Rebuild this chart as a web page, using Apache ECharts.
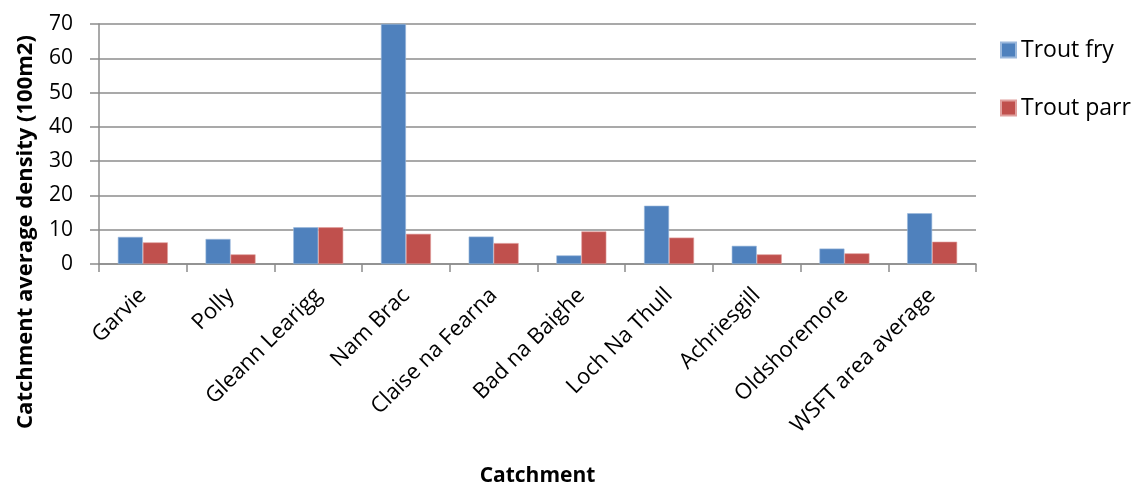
<!DOCTYPE html>
<html>
<head>
<meta charset="utf-8">
<script src="https://cdn.jsdelivr.net/npm/echarts@6/dist/echarts.min.js"></script>
<style>
  html, body { margin: 0; padding: 0; background: #fff; }
  #chart-box { width: 1134px; height: 485px; }
</style>
</head>
<body>
<div id="chart-box"></div>
<script>
// catchments (x axis)
var catchments = ['Garvie', 'Polly', 'Gleann Learigg', 'Nam Brac', 'Claise na Fearna',
  'Bad na Baighe', 'Loch Na Thull', 'Achriesgill', 'Oldshoremore', 'WSFT area average'];
// densities per 100m2
var troutFry  = [7.9, 7.3, 10.7, 70, 8.0, 2.5, 17.0, 5.3, 4.5, 14.8];
var troutParr = [6.3, 2.8, 10.7, 8.8, 6.1, 9.5, 7.7, 2.8, 3.1, 6.5];
var yTicks = [0, 10, 20, 30, 40, 50, 60, 70];

var font = 'Open Sans';
var chart = echarts.init(document.getElementById('chart-box'));

option = {
  animation: false,
  textStyle: { fontFamily: font },
  grid: { left: 99, right: 158, top: 24, bottom: 221, containLabel: false, outerBoundsMode: 'none' },
  // y title is centred on the whole chart height, not on the plot, so draw it here
  graphic: [{
    type: 'text',
    x: 26,
    y: 232,
    rotation: Math.PI / 2,
    style: {
      text: 'Catchment average density (100m2)',
      font: 'bold 22px "Open Sans"',
      fill: '#000',
      align: 'center',
      verticalAlign: 'middle'
    }
  }],
  legend: {
    orient: 'vertical',
    left: 1000,
    top: 38,
    padding: 0,
    itemWidth: 15,
    itemHeight: 15,
    itemGap: 34,
    icon: 'rect',
    textStyle: { fontFamily: font, fontSize: 23, color: '#000', lineHeight: 24 },
    data: ['Trout fry', 'Trout parr']
  },
  xAxis: {
    type: 'category',
    data: catchments,
    name: 'Catchment',
    nameLocation: 'middle',
    nameGap: 202,
    nameTextStyle: { fontFamily: font, fontSize: 21, fontWeight: 'bold', color: '#000' },
    axisLine: { lineStyle: { color: '#8c8c8c', width: 1.5 } },
    axisTick: { show: true, length: 8, lineStyle: { color: '#8c8c8c', width: 1.5 } },
    axisLabel: { rotate: 45, margin: 28, fontSize: 22, color: '#000', interval: 0 }
  },
  yAxis: {
    type: 'value',
    min: yTicks[0],
    max: yTicks[yTicks.length - 1],
    interval: 10,
    axisLine: { show: true, lineStyle: { color: '#8c8c8c', width: 1.5 } },
    axisTick: { show: true, length: 9, lineStyle: { color: '#8c8c8c', width: 1.5 } },
    axisLabel: { margin: 26, fontSize: 21, color: '#000' },
    splitLine: { lineStyle: { color: '#8c8c8c', width: 1.5 } }
  },
  series: [
    {
      name: 'Trout fry',
      type: 'bar',
      data: troutFry,
      barGap: '0%',
      barCategoryGap: '43%',
      itemStyle: { color: '#4F81BD', borderColor: '#9bb8dc', borderWidth: 0.6 }
    },
    {
      name: 'Trout parr',
      type: 'bar',
      data: troutParr,
      barGap: '0%',
      barCategoryGap: '43%',
      itemStyle: { color: '#C0504D', borderColor: '#e0a09e', borderWidth: 0.6 }
    }
  ]
};

chart.setOption(option);
</script>
</body>
</html>
